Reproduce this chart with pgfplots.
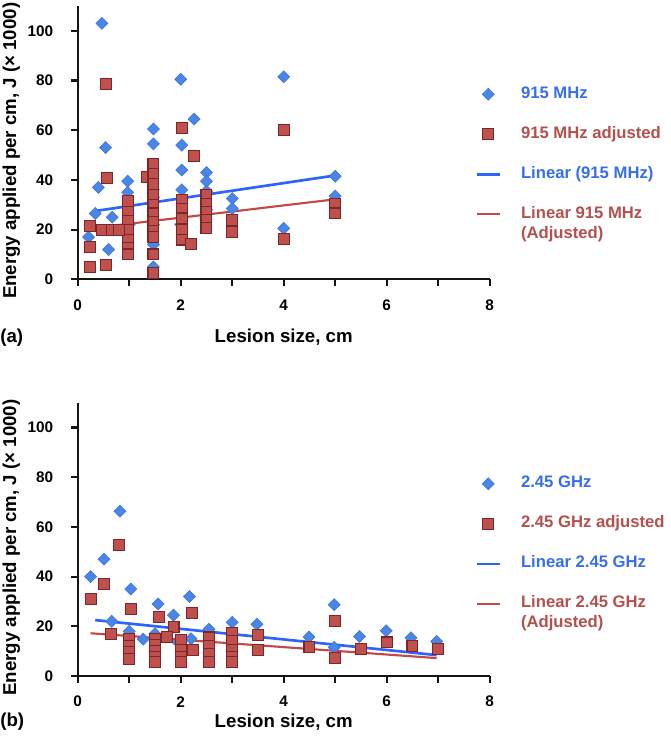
\documentclass[border=0pt]{standalone}
\usepackage{pgfplots}
\pgfplotsset{compat=1.18}
\usepackage{fontspec}
\setmainfont{Liberation Sans}
\definecolor{bluemark}{RGB}{74,134,232}
\definecolor{blueedge}{RGB}{60,115,215}
\definecolor{bluefit}{RGB}{45,100,250}
\definecolor{redfill}{RGB}{192,80,77}
\definecolor{rededge}{RGB}{125,38,38}
\definecolor{redfit}{RGB}{195,72,70}
\definecolor{bluetext}{RGB}{55,110,235}
\definecolor{redtext}{RGB}{180,80,78}
\definecolor{axisblack}{RGB}{20,20,20}
\pgfplotsset{
  mystyle/.style={
    scale only axis, width=309pt, height=205pt,
    xmin=0, xmax=8, ymin=0, ymax=110,
    axis lines=left,
    axis line style={-, black, line width=1.6pt},
    xtick={0,...,8}, xticklabels={0,,2,,4,,6,,8},
    ytick={0,20,...,100},
    tick align=outside, major tick length=5pt,
    tick style={black, line width=1.6pt},
    /pgf/number format/assume math mode=true,
    ticklabel style={font=\bfseries\fontsize{11.5}{13}\selectfont},
    xticklabel style={anchor=center, yshift=-14.25pt},
    yticklabel style={anchor=east, inner sep=0pt, xshift=-13.25pt},
    label style={font=\bfseries\fontsize{14}{16}\selectfont},
    ylabel={Energy applied per cm, J (× 1000)},
    ylabel style={at={(axis description cs:-0.161,0.47)}, anchor=center},
    xlabel={Lesion size, cm},
    legend cell align=left,
    legend style={draw=none, fill=none, inner sep=0pt, row sep=14pt, column sep=13pt,
      font=\bfseries\fontsize{12.5}{15}\selectfont,
      nodes={inner sep=2pt, text height=9pt, text depth=3pt}},
    clip=false,
  },
  diam/.style={only marks, mark=square*, mark size=3.2pt,
    mark options={rotate=45, fill=bluemark, draw=blueedge, line width=0.4pt}},
  sq/.style={only marks, mark=square*, mark size=4.1pt,
    mark options={fill=redfill, draw=rededge, line width=0.8pt}},
  frameline/.style={axisblack, line width=1.6pt, forget plot, no markers},
}
\newcommand{\axisframe}{%
  \addplot[frameline] coordinates {(0,110) (0,0) (8,0)};
  \addplot[frameline, ycomb] coordinates {(0,-2.68) (1,-2.68) (2,-2.68) (3,-2.68) (4,-2.68) (5,-2.68) (6,-2.68) (7,-2.68) (8,-2.68)};
  \addplot[frameline, xcomb] coordinates {(-0.13,0) (-0.13,20) (-0.13,40) (-0.13,60) (-0.13,80) (-0.13,100)};
}
\begin{document}
\begin{tikzpicture}
\useasboundingbox (0,0) rectangle (502.5pt,561pt);
% ---------------- (a) ----------------
\begin{axis}[mystyle, at={(58.3pt,351.5pt)}, anchor=south west,
  xlabel style={at={(axis description cs:0.5,-0.21)}, anchor=center},
  legend style={at={(axis description cs:0.965,0.717)}, anchor=north west}]
\axisframe
\addplot[diam] table {
x y
0.47 103
2.0 80.5
4.0 81.5
1.47 60.5
1.47 54.5
0.54 53
2.02 54
2.26 64.5
2.02 44
2.5 43
2.5 39.5
2.02 36
0.4 37
0.97 39.5
0.97 35
1.47 36
1.47 33
0.34 26.5
0.67 25
0.6 12
3.0 32.5
3.0 28.5
5.0 41.5
5.0 33.5
4.0 20.5
0.21 17
1.47 14
1.47 5
2.5 35.5
1.0 22
2.0 22
2.5 28
1.47 22
};
\addlegendentry{\textcolor{bluetext}{915 MHz}}
\addplot[sq] table {
x y
0.55 78.5
2.02 61
4.0 60.2
2.26 49.6
0.56 40.8
1.34 41.2
1.47 46.5
1.47 42.5
1.47 38.5
1.47 34
1.47 30
1.47 26.5
1.47 23
1.47 19.5
1.47 17
1.47 10
1.47 2.5
0.97 31.5
0.97 27
0.97 23.5
0.97 20
0.97 16
0.97 12.5
0.97 10
0.24 21.5
0.24 13
0.24 5
0.55 5.7
0.47 19.8
0.66 19.8
0.8 19.8
2.02 32
2.02 28.5
2.02 24.5
2.02 20
2.02 16
2.2 14.2
2.5 33.8
2.5 30.5
2.5 27
2.5 23.8
2.5 20.5
3.0 23.8
3.0 19
4.0 16.4
5.0 30.5
5.0 26.5
};
\addlegendentry{\textcolor{redtext}{915 MHz adjusted}}
\addplot[bluefit, line width=2pt] coordinates {(0.31,27.4) (5,41.8)};
\addlegendentry{\textcolor{bluetext}{Linear (915 MHz)}}
\addplot[redfit, line width=1.6pt] coordinates {(0.24,20.5) (5,32.2)};
\addlegendentry{\color{redtext}\begin{tabular}[t]{@{}l@{}}Linear 915 MHz\\(Adjusted)\end{tabular}}
\node[anchor=west, inner sep=0pt, font=\bfseries\fontsize{14}{16}\selectfont] at (axis description cs:-0.1886,-0.215) {(a)};
\end{axis}
% ---------------- (b) ----------------
\begin{axis}[mystyle, at={(58.3pt,54pt)}, anchor=south west,
  xlabel style={at={(axis description cs:0.5,-0.169)}, anchor=center},
  legend style={at={(axis description cs:0.965,0.743)}, anchor=north west}]
\axisframe
\addplot[diam] table {
x y
0.82 66.3
0.51 47
0.25 40
1.03 35
1.56 29
2.17 32
1.86 24.5
0.66 22
1.0 18
1.27 14.8
1.5 17
2.55 18.8
3.0 21.6
3.48 20.8
2.2 15
4.49 15.7
4.98 28.7
5.47 15.9
5.99 18.2
6.47 15.4
6.97 13.9
1.95 13.5
4.98 11.5
};
\addlegendentry{\textcolor{bluetext}{2.45 GHz}}
\addplot[sq] table {
x y
0.8 52.7
0.51 37
0.25 31
1.03 27
1.57 23.8
2.22 25.2
1.86 19.8
0.65 16.8
1.73 15.8
2.24 10.5
1.0 15
1.0 12.2
1.0 9.5
1.0 7
1.5 15
1.5 12.5
1.5 10
1.5 7.5
1.5 5.5
2.0 14.5
2.0 10.4
2.0 7.8
2.0 5.8
2.55 15.5
2.55 12.2
2.55 8.8
2.55 5.5
3.0 17.5
3.0 14
3.0 10.5
3.0 7.5
3.0 5.8
3.5 16.5
3.5 10.4
4.5 11.5
5.0 22
5.0 7.1
5.5 11
6.0 13.5
6.5 12
7.0 11
};
\addlegendentry{\textcolor{redtext}{2.45 GHz adjusted}}
\addplot[bluefit, line width=2pt] coordinates {(0.34,22.5) (6.97,8.4)};
\addlegendentry{\textcolor{bluetext}{Linear 2.45 GHz}}
\addplot[redfit, line width=1.6pt] coordinates {(0.25,17.2) (6.97,7.2)};
\addlegendentry{\color{redtext}\begin{tabular}[t]{@{}l@{}}Linear 2.45 GHz\\(Adjusted)\end{tabular}}
\node[anchor=west, inner sep=0pt, font=\bfseries\fontsize{14}{16}\selectfont] at (axis description cs:-0.1886,-0.167) {(b)};
\end{axis}
\end{tikzpicture}
\end{document}
